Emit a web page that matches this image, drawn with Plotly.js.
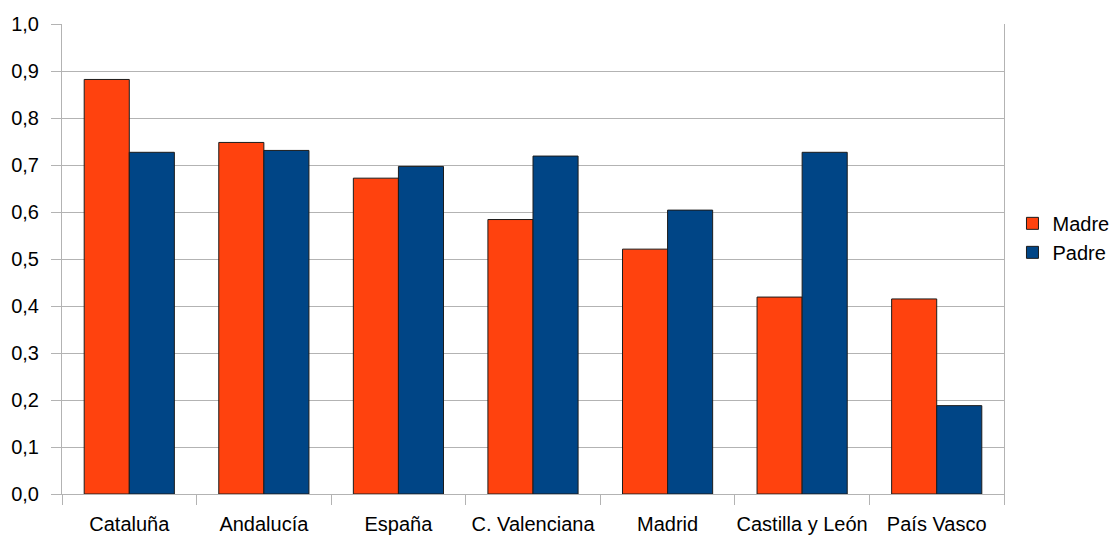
<!DOCTYPE html>
<html>
<head>
<meta charset="utf-8">
<script src="https://cdn.plot.ly/plotly-3.0.1.min.js"></script>
<style>
  html, body { margin: 0; padding: 0; background: #fff; }
  #chart { width: 1115px; height: 539px; }
</style>
</head>
<body>
<div id="chart"></div>
<script>
// Regions compared
const categories = ["Cataluña", "Andalucía", "España", "C. Valenciana", "Madrid", "Castilla y León", "País Vasco"];
// Values for each parent
const madre = [0.882, 0.748, 0.672, 0.584, 0.521, 0.419, 0.415];
const padre = [0.727, 0.731, 0.697, 0.719, 0.604, 0.727, 0.188];
// Y-axis ticks
const yTicks = [0, 0.1, 0.2, 0.3, 0.4, 0.5, 0.6, 0.7, 0.8, 0.9, 1.0];

const gridGrey = "#b3b3b3";
const outline = { color: "#1c1c1c", width: 1 };

const traces = [
  { type: "bar", name: "Madre", x: categories, y: madre,
    marker: { color: "#ff420e", line: outline } },
  { type: "bar", name: "Padre", x: categories, y: padre,
    marker: { color: "#004586", line: outline } }
];

const layout = {
  width: 1115, height: 539,
  margin: { l: 62, r: 111, t: 24, b: 45, autoexpand: false },
  paper_bgcolor: "#ffffff",
  plot_bgcolor: "#ffffff",
  separators: ", ",
  font: { family: "Liberation Sans, Arial, sans-serif", size: 20, color: "#000000" },
  barmode: "group",
  bargap: 0.33,
  bargroupgap: 0,
  xaxis: {
    type: "category",
    automargin: false,
    showline: true, linecolor: gridGrey, linewidth: 1,
    mirror: false,
    ticks: "outside", tickson: "boundaries", ticklen: 10, tickcolor: gridGrey, tickwidth: 1,
    tickangle: 0,
    ticklabelstandoff: 12,
    showgrid: false, zeroline: false,
    tickfont: { size: 20 }
  },
  yaxis: {
    range: [0, 1],
    automargin: false,
    tickvals: yTicks,
    tickformat: ".1f",
    showline: true, linecolor: gridGrey, linewidth: 1,
    mirror: true,
    ticks: "outside", ticklen: 10, tickcolor: gridGrey, tickwidth: 1,
    ticklabelstandoff: 8,
    showgrid: true, gridcolor: gridGrey, gridwidth: 1,
    zeroline: false,
    tickfont: { size: 20 }
  },
  legend: {
    x: 1.009, xanchor: "left",
    y: 0.545, yanchor: "middle",
    font: { size: 20 },
    bgcolor: "rgba(0,0,0,0)",
    tracegroupgap: 0
  },
  showlegend: true
};

Plotly.newPlot("chart", traces, layout, { staticPlot: true, displayModeBar: false });
</script>
</body>
</html>
